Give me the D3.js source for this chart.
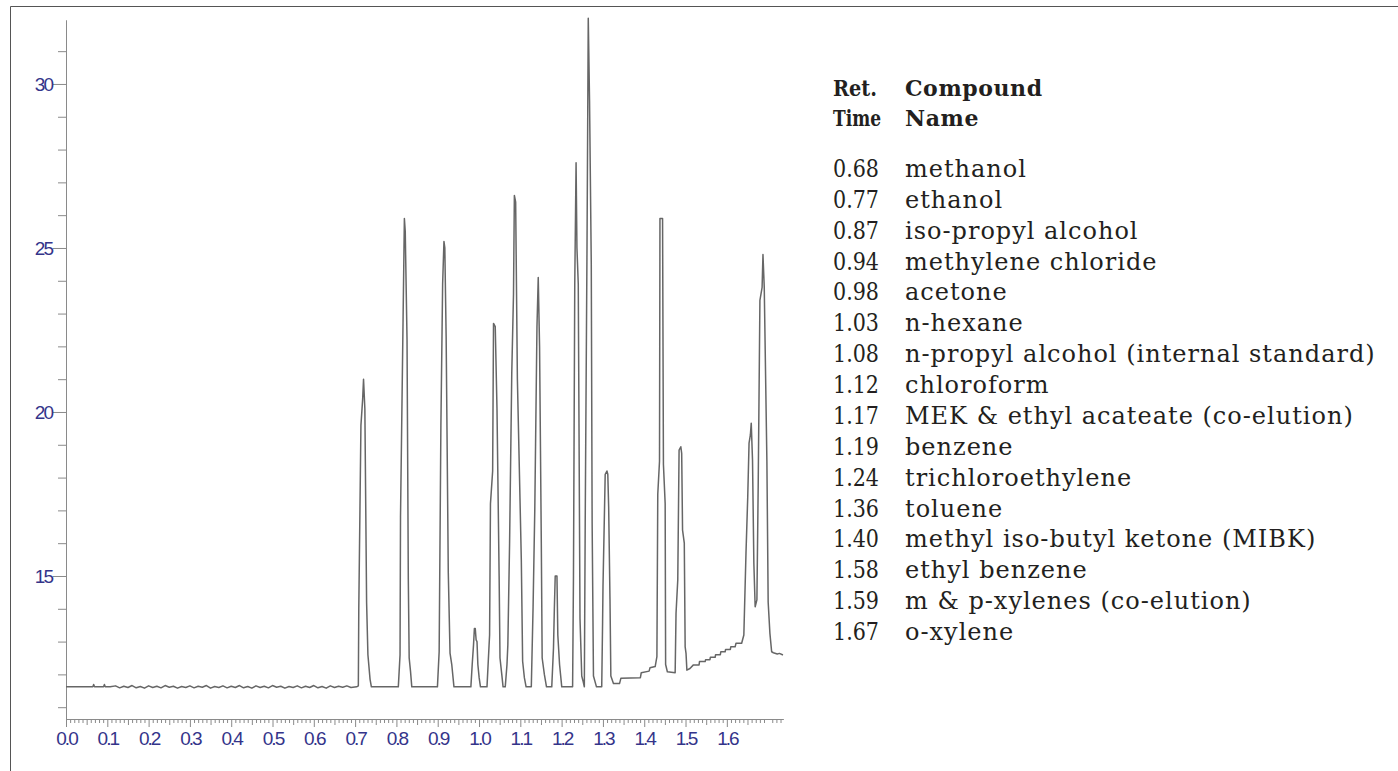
<!DOCTYPE html>
<html>
<head>
<meta charset="utf-8">
<script src="https://cdn.jsdelivr.net/npm/d3@7"></script>
<style>
  body { margin: 0; background: #fff; }
</style>
</head>
<body>
<svg id="chart"></svg>
<script>
// retention time table
var retTimes = ["0.68", "0.77", "0.87", "0.94", "0.98", "1.03", "1.08", "1.12", "1.17", "1.19", "1.24", "1.36", "1.40", "1.58", "1.59", "1.67"];
var compounds = ["methanol", "ethanol", "iso-propyl alcohol", "methylene chloride", "acetone", "n-hexane",
    "n-propyl alcohol (internal standard)", "chloroform", "MEK & ethyl acateate (co-elution)", "benzene",
    "trichloroethylene", "toluene", "methyl iso-butyl ketone (MIBK)", "ethyl benzene", "m & p-xylenes (co-elution)", "o-xylene"];

// axis labels
var xLabels = [0.0, 0.1, 0.2, 0.3, 0.4, 0.5, 0.6, 0.7, 0.8, 0.9, 1.0, 1.1, 1.2, 1.3, 1.4, 1.5, 1.6];
var yLabels = [15, 20, 25, 30];

// chromatogram trace, [time, signal]
var startBaseline = [[0.000, 11.62], [0.065, 11.62], [0.067, 11.69], [0.069, 11.62], [0.091, 11.62], [0.093, 11.69], [0.095, 11.62], [0.107, 11.62]];
var noisyBaseline = [[0.12, 11.65], [0.13, 11.59], [0.14, 11.64], [0.15, 11.60], [0.16, 11.66], [0.17, 11.59], [0.18, 11.63], [0.19, 11.58],
    [0.20, 11.65], [0.21, 11.60], [0.22, 11.64], [0.23, 11.59], [0.24, 11.66], [0.25, 11.61], [0.26, 11.64], [0.27, 11.58], [0.28, 11.63],
    [0.29, 11.60], [0.30, 11.65], [0.31, 11.59], [0.32, 11.64], [0.33, 11.61], [0.34, 11.66], [0.35, 11.58], [0.36, 11.63], [0.37, 11.60],
    [0.38, 11.65], [0.39, 11.59], [0.40, 11.64], [0.41, 11.60], [0.42, 11.66], [0.43, 11.59], [0.44, 11.63], [0.45, 11.58], [0.46, 11.65],
    [0.47, 11.60], [0.48, 11.64], [0.49, 11.59], [0.50, 11.66], [0.51, 11.61], [0.52, 11.64], [0.53, 11.58], [0.54, 11.63], [0.55, 11.60],
    [0.56, 11.65], [0.57, 11.59], [0.58, 11.64], [0.59, 11.60], [0.60, 11.66], [0.61, 11.59], [0.62, 11.63], [0.63, 11.58], [0.64, 11.65],
    [0.65, 11.60], [0.66, 11.64], [0.67, 11.61], [0.68, 11.65], [0.69, 11.60], [0.7036, 11.62]];
var methanolPeak = [[0.7078, 11.65], [0.7089, 14.0], [0.7141, 19.6], [0.7183, 20.4], [0.7204, 21.0], [0.7236, 20.1], [0.7278, 14.2], [0.7310, 12.6], [0.7362, 11.85], [0.7394, 11.62]];
var ethanolPeak = [[0.8046, 11.62], [0.8088, 12.6], [0.8099, 16.8], [0.8162, 22.9], [0.8193, 25.9], [0.8214, 25.5], [0.8257, 22.2], [0.8288, 14.9], [0.8309, 12.5], [0.8341, 12.1], [0.8372, 11.62]];
var ipaPeak = [[0.8993, 11.62], [0.9035, 12.7], [0.9077, 19.6], [0.9119, 23.9], [0.9151, 25.2], [0.9172, 25.0], [0.9204, 22.3], [0.9256, 15.1], [0.9298, 12.65], [0.9340, 12.3], [0.9393, 11.62]];
var dcmPeak = [[0.9803, 11.62], [0.9835, 12.3], [0.9867, 12.9], [0.9888, 13.4], [0.9909, 13.4], [0.9930, 13.05], [0.9951, 13.0], [0.9972, 12.3], [1.0003, 11.9], [1.0035, 11.62]];
var acetonePeak = [[1.0193, 11.62], [1.0224, 12.4], [1.0256, 13.2], [1.0277, 17.2], [1.0330, 18.2], [1.0351, 22.7], [1.0393, 22.6], [1.0435, 20.1], [1.0487, 15.0], [1.0508, 12.5], [1.0551, 12.0], [1.0582, 11.62]];
var hexanePeak = [[1.0635, 11.62], [1.0677, 12.3], [1.0698, 12.9], [1.0740, 16.0], [1.0793, 21.2], [1.0835, 23.6], [1.0856, 26.6], [1.0887, 26.4], [1.0929, 21.0], [1.1024, 15.5], [1.1056, 12.4], [1.1098, 11.9], [1.1140, 11.62]];
var propanolPeak = [[1.1266, 11.62], [1.1308, 14.0], [1.1350, 17.0], [1.1403, 22.6], [1.1434, 24.1], [1.1466, 22.0], [1.1508, 16.0], [1.1529, 12.5], [1.1582, 12.0], [1.1634, 11.62]];
var chloroformPeak = [[1.1761, 11.62], [1.1803, 12.8], [1.1824, 14.0], [1.1845, 15.0], [1.1887, 15.0], [1.1908, 13.2], [1.1950, 12.3], [1.2003, 11.62]];
var mekPeak = [[1.2266, 11.62], [1.2287, 15.0], [1.2318, 23.9], [1.2350, 27.6], [1.2371, 25.0], [1.2403, 23.9], [1.2445, 13.7], [1.2487, 11.95], [1.2518, 11.8]];
var benzenePeak = [[1.2550, 11.62], [1.2571, 16.6], [1.2613, 24.7], [1.2645, 32.0], [1.2676, 29.5], [1.2718, 24.5], [1.2739, 16.6], [1.2771, 11.95], [1.2844, 11.62], [1.2971, 11.62]];
var tcePeak = [[1.2992, 13.6], [1.3002, 14.7], [1.3055, 18.1], [1.3097, 18.2], [1.3118, 18.1], [1.3139, 17.1], [1.3171, 14.3], [1.3192, 11.95], [1.3255, 11.72],
    [1.3402, 11.72], [1.3434, 11.88], [1.3907, 11.9], [1.3928, 12.05], [1.4118, 12.1], [1.4139, 12.2], [1.4265, 12.24]];
var toluenePeak = [[1.4307, 12.54], [1.4328, 17.5], [1.4370, 18.5], [1.4381, 25.9], [1.4444, 25.9], [1.4465, 18.4], [1.4507, 17.2], [1.4518, 12.3], [1.4560, 12.08], [1.4749, 12.05]];
var mibkPeak = [[1.4770, 13.86], [1.4812, 14.88], [1.4844, 18.84], [1.4886, 18.94], [1.4907, 18.74], [1.4928, 16.4], [1.4970, 16.0], [1.4991, 12.84], [1.5012, 12.64], [1.5033, 12.13], [1.5107, 12.18], [1.5191, 12.29]];
var riseBaseline = [[1.5328, 12.29], [1.5338, 12.39], [1.5475, 12.39], [1.5486, 12.45], [1.5591, 12.45], [1.5601, 12.52], [1.5717, 12.52], [1.5728, 12.60],
    [1.5843, 12.60], [1.5854, 12.69], [1.5959, 12.69], [1.5970, 12.76], [1.6085, 12.76], [1.6096, 12.84], [1.6201, 12.84], [1.6222, 12.95], [1.6359, 12.95]];
var xylenePeaks = [[1.6412, 13.2], [1.6464, 15.7], [1.6506, 17.4], [1.6538, 19.05], [1.6570, 19.3], [1.6591, 19.66], [1.6622, 18.54], [1.6654, 15.4], [1.6686, 14.06],
    [1.6728, 14.27], [1.6759, 17.7], [1.6801, 23.4], [1.6854, 23.8], [1.6875, 24.8], [1.6906, 23.8], [1.6970, 18.5], [1.7001, 14.2], [1.7043, 13.25],
    [1.7085, 12.69], [1.7127, 12.66], [1.7222, 12.62], [1.7275, 12.64], [1.7359, 12.59]];

var trace = [].concat(startBaseline, noisyBaseline, methanolPeak, ethanolPeak, ipaPeak, dcmPeak, acetonePeak, hexanePeak,
    propanolPeak, chloroformPeak, mekPeak, benzenePeak, tcePeak, toluenePeak, mibkPeak, riseBaseline, xylenePeaks);

var width = 1398, height = 771;
var svg = d3.select("#chart").attr("width", width).attr("height", height);

// frame
svg.append("path")
    .attr("d", "M10.5,771V6.5H1398")
    .attr("fill", "none")
    .attr("stroke", "#555")
    .attr("stroke-width", 1);

var xScale = d3.scaleLinear().domain([0, 1.736]).range([66, 783]);
var yScale = d3.scaleLinear().domain([10.64, 31.95]).range([719, 20]);

var labelFont = "'Liberation Sans Narrow', 'Liberation Sans', Arial, sans-serif";
var axisGrey = "#8a8a8a";
var labelBlue = "#34348a";

// x axis: minor, mid and labelled ticks
var minorT = d3.range(0, 174).filter(function(i) { return i % 5 != 0; }).map(function(i) { return i / 100; });
var midT = d3.range(5, 174, 10).map(function(i) { return i / 100; });

function styleAxis(g) {
    g.select(".domain").attr("stroke", axisGrey);
    g.selectAll(".tick line").attr("stroke", axisGrey);
    g.selectAll("text").attr("fill", labelBlue)
        .style("font-family", labelFont)
        .style("font-size", "19px")
        .style("letter-spacing", "-2px");
}

svg.append("g")
    .attr("transform", "translate(0,719)")
    .call(d3.axisBottom(xScale).tickValues(minorT).tickSize(4).tickFormat("").tickSizeOuter(0))
    .call(styleAxis);
svg.append("g")
    .attr("transform", "translate(0,719)")
    .call(d3.axisBottom(xScale).tickValues(midT).tickSize(6).tickFormat("").tickSizeOuter(0))
    .call(styleAxis);
svg.append("g")
    .attr("transform", "translate(0,719)")
    .call(d3.axisBottom(xScale).tickValues(xLabels).tickSize(8).tickPadding(5).tickFormat(d3.format(".1f")).tickSizeOuter(0))
    .call(styleAxis);

// y axis
var yMinor = d3.range(11, 32).filter(function(v) { return v % 5 != 0; });
svg.append("g")
    .attr("transform", "translate(66,0)")
    .call(d3.axisLeft(yScale).tickValues(yMinor).tickSize(8).tickFormat("").tickSizeOuter(0))
    .call(styleAxis);
svg.append("g")
    .attr("transform", "translate(66,0)")
    .call(d3.axisLeft(yScale).tickValues(yLabels).tickSize(13).tickPadding(1).tickFormat(d3.format("d")).tickSizeOuter(0))
    .call(styleAxis);

// trace
var line = d3.line()
    .x(function(d) { return xScale(d[0]); })
    .y(function(d) { return yScale(d[1]); });

svg.append("path")
    .datum(trace)
    .attr("d", line)
    .attr("fill", "none")
    .attr("stroke", "#666")
    .attr("stroke-width", 1.5)
    .attr("stroke-linejoin", "round");

// retention time table
var tableFont = "'DejaVu Serif', serif";
var tbl = svg.append("g").style("font-family", tableFont).attr("fill", "#231f20");
var colTime = 833, colName = 905;

// header rows: left text, its width, right text, baseline
[["Ret.", 44, "Compound", 96], ["Time", 48, "Name", 126]].forEach(function(h) {
    tbl.append("text").attr("x", colTime).attr("y", h[3]).style("font-weight", "bold").style("font-size", "22px")
        .attr("textLength", h[1]).attr("lengthAdjust", "spacingAndGlyphs").text(h[0]);
    tbl.append("text").attr("x", colName).attr("y", h[3]).style("font-weight", "bold").style("font-size", "22px")
        .style("letter-spacing", "0.6px").text(h[2]);
});

var rowY = d3.scaleLinear().domain([0, retTimes.length - 1]).range([177, 640]);
retTimes.forEach(function(t, i) {
    tbl.append("text").attr("x", colTime).attr("y", rowY(i)).style("font-size", "24px")
        .attr("textLength", 46).attr("lengthAdjust", "spacingAndGlyphs").text(t);
    tbl.append("text").attr("x", colName).attr("y", rowY(i)).style("font-size", "24px")
        .style("letter-spacing", "1px").text(compounds[i]);
});
</script>
</body>
</html>
